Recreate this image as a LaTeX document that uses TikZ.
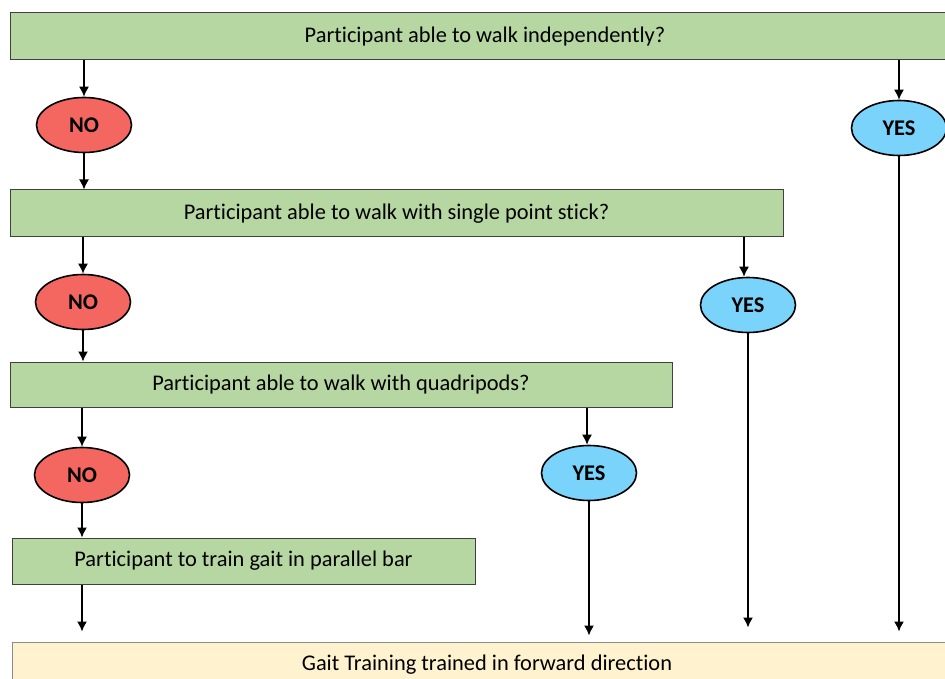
\documentclass[tikz,border=0pt]{standalone}
\usepackage{fontspec}
\setmainfont[Ligatures=NoCommon]{Carlito}
\usetikzlibrary{shapes.geometric,arrows.meta}

\definecolor{qgreen}{RGB}{182,215,161}
\definecolor{qred}{RGB}{244,102,96}
\definecolor{qblue}{RGB}{122,211,250}
\definecolor{qcream}{RGB}{255,242,206}

\tikzset{
  question/.style={draw=black!75, line width=1pt, fill=qgreen, minimum height=47pt, inner sep=0pt,
    font=\fontsize{22.4}{26}\selectfont},
  answer/.style={ellipse, draw=black, line width=1.6pt, minimum width=95pt, minimum height=55pt,
    inner sep=0pt, font=\fontsize{22.4}{26}\selectfont\bfseries},
  no/.style={answer, fill=qred},
  yes/.style={answer, fill=qblue},
  arr/.style={line width=1.4pt, -{Latex[length=10pt,width=10pt]}}
}

\begin{document}
\begin{tikzpicture}[x=1pt,y=-1pt]
    \path[use as bounding box, clip] (0,0) rectangle (945,679);

    \node[question, minimum width=950pt] (q1) at (485,36.5) {Participant able to walk independently?};
    \node[no] (no1) at (84,125) {NO};
    \node[yes] (yes1) at (899,128) {YES};

    \node[question, minimum width=773pt] (q2) at (396.5,213.5) {Participant able to walk with single point stick?};
    \node[no] (no2) at (83,302) {NO};
    \node[yes] (yes2) at (748,305) {YES};

    \node[question, minimum width=662pt, minimum height=45pt] (q3) at (341,384.5) {Participant able to walk with quadripods?};
    \node[no] (no3) at (82,475) {NO};
    \node[yes] (yes3) at (589,473) {YES};

    \node[question, minimum width=463pt, minimum height=46pt] (q4) at (243.5,561) {Participant to train gait in parallel bar};
    \node[question, fill=qcream, draw=black!45, minimum width=950pt, minimum height=46pt] (final) at (487,665)
        {Gait Training trained in forward direction};

    \draw[arr] (no1 |- q1.south) -- (no1.north);
    \draw[arr] (yes1 |- q1.south) -- (yes1.north);
    \draw[arr] (no1.south) -- (no1 |- q2.north);
    \draw[arr] (no2 |- q2.south) -- (no2.north);
    \draw[arr] ([xshift=-4pt]yes2 |- q2.south) -- ([xshift=-4pt]yes2.north);
    \draw[arr] (no2.south) -- (no2 |- q3.north);
    \draw[arr] (no3 |- q3.south) -- (no3.north);
    \draw[arr] ([xshift=-2pt]yes3 |- q3.south) -- ([xshift=-2pt]yes3.north);
    \draw[arr] (no3.south) -- (no3 |- q4.north);
    \draw[arr, shorten >=10pt] (no3 |- q4.south) -- (no3 |- final.north);

    \foreach \n/\s in {yes3/6, yes2/14, yes1/10}
        \draw[arr, shorten >=\s pt] (\n.south) -- (\n |- final.north);
\end{tikzpicture}
\end{document}
